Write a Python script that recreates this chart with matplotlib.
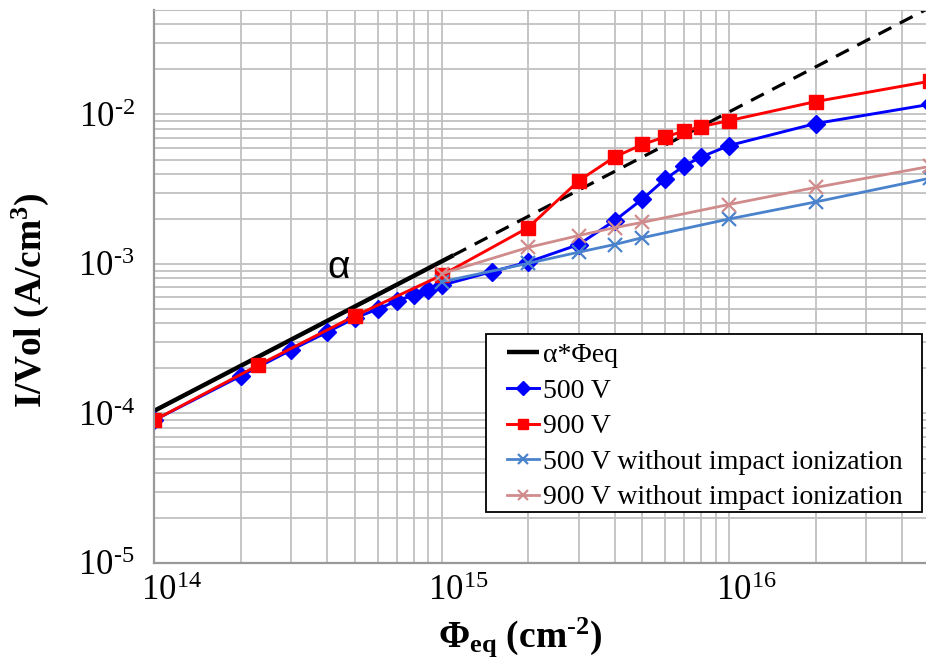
import numpy as np
import matplotlib
matplotlib.use("Agg")
import matplotlib.pyplot as plt
import matplotlib.transforms as mtransforms
from matplotlib.patches import Rectangle
from matplotlib.ticker import LogLocator, NullFormatter, FixedLocator

plt.rcParams['font.family'] = ['Liberation Serif', 'DejaVu Serif']
plt.rcParams['mathtext.fontset'] = 'custom'
plt.rcParams['mathtext.rm'] = 'Liberation Serif'
plt.rcParams['mathtext.it'] = 'Liberation Serif:italic'
plt.rcParams['mathtext.bf'] = 'Liberation Serif:bold'

# fluence (cm^-2) and current per volume (A/cm^3)
phi_500 = [1e14, 2e14, 3e14, 4e14, 5e14, 6e14, 7e14, 8e14, 9e14, 1e15, 1.5e15,
           2e15, 3e15, 4e15, 5e15, 6e15, 7e15, 8e15, 1e16, 2e16, 5e16]
i_500 = [9.0e-5, 1.78e-4, 2.66e-4, 3.5e-4, 4.35e-4, 5.0e-4, 5.66e-4, 6.2e-4, 6.7e-4,
         7.2e-4, 8.9e-4, 1.03e-3, 1.35e-3, 1.95e-3, 2.72e-3, 3.7e-3, 4.55e-3,
         5.2e-3, 6.2e-3, 8.7e-3, 1.17e-2]

phi_900 = [1e14, 2.3e14, 5e14, 1e15, 2e15, 3e15, 4e15, 5e15, 6e15, 7e15, 8e15,
           1e16, 2e16, 5e16]
i_900 = [9.0e-5, 2.1e-4, 4.5e-4, 8.4e-4, 1.75e-3, 3.6e-3, 5.2e-3, 6.3e-3, 7.1e-3,
         7.75e-3, 8.3e-3, 9.1e-3, 1.22e-2, 1.67e-2]

phi_noii = [1e15, 2e15, 3e15, 4e15, 5e15, 1e16, 2e16, 5e16]
i_500_noii = [7.6e-4, 1.01e-3, 1.2e-3, 1.35e-3, 1.5e-3, 2.0e-3, 2.6e-3, 3.75e-3]
i_900_noii = [8.6e-4, 1.29e-3, 1.55e-3, 1.75e-3, 1.9e-3, 2.5e-3, 3.25e-3, 4.5e-3]

alpha = 1.04e-18
phi_fit = [1e14, 1.1e15]
phi_extrap = [1.1e15, 5e16]

xticks = [1e14, 1e15, 1e16]
xticklabels = ['$\\mathregular{10^{14}}$', '$\\mathregular{10^{15}}$', '$\\mathregular{10^{16}}$']
yticks = [1e-5, 1e-4, 1e-3, 1e-2]
yticklabels = ['$\\mathregular{10^{\\text{-}5}}$', '$\\mathregular{10^{\\text{-}4}}$',
               '$\\mathregular{10^{\\text{-}3}}$', '$\\mathregular{10^{\\text{-}2}}$']

fig = plt.figure(figsize=(9.26, 6.59), dpi=100)
ax = fig.add_axes([154/926, 96/659, 776/926, 553/659])
ax.set_xscale('log')
ax.set_yscale('log')
ax.set_xlim(1e14, 5e16)
ax.set_ylim(1e-5, 5e-2)

gridc = '#c0c0c0'
ax.xaxis.set_major_locator(FixedLocator(xticks))
ax.yaxis.set_major_locator(FixedLocator(yticks))
ax.xaxis.set_minor_locator(LogLocator(base=10, subs=np.arange(2, 10)))
ax.yaxis.set_minor_locator(LogLocator(base=10, subs=np.arange(2, 10)))
ax.xaxis.set_minor_formatter(NullFormatter())
ax.yaxis.set_minor_formatter(NullFormatter())
ax.grid(True, which='both', color=gridc, lw=1.3)
ax.set_axisbelow(True)
ax.set_xticklabels(xticklabels, fontsize=25)
ax.set_yticklabels(yticklabels, fontsize=25)
ax.tick_params(which='both', length=0)
ax.tick_params(axis='x', pad=9)
ax.tick_params(axis='y', pad=14)
off = mtransforms.ScaledTranslation(17/100, 0, fig.dpi_scale_trans)
for lab in ax.get_xticklabels():
    lab.set_transform(lab.get_transform() + off)

for s in ['left', 'bottom']:
    ax.spines[s].set_color('#999999')
    ax.spines[s].set_linewidth(1.6)
ax.spines['top'].set_color(gridc)
ax.spines['right'].set_visible(False)

ax.plot(phi_fit, [alpha * p for p in phi_fit], color='black', lw=3.2,
        label='α*Φeq', solid_capstyle='butt')
ax.plot(phi_extrap, [alpha * p for p in phi_extrap], color='black', lw=2.3,
        dashes=(4.5, 3))
ax.plot(phi_500, i_500, color='#0000ff', lw=2.1, marker='D', ms=9.5, label='500 V')
ax.plot(phi_900, i_900, color='#ff0000', lw=2.1, marker='s', ms=10.5, label='900 V')
ax.plot(phi_noii, i_500_noii, color='#4a82cc', lw=2, marker='x', ms=10, mew=1.6,
        label='500 V without impact ionization')
ax.plot(phi_noii, i_900_noii, color='#d08c8c', lw=2, marker='x', ms=10, mew=1.6,
        label='900 V without impact ionization')

ax.text(4.4e14, 9.4e-4, 'α', fontsize=28, family='Liberation Sans',
        ha='center', va='center')

# legend box drawn separately so the padding can match
box = Rectangle((486/926, 1 - 512/659), 436/926, 178/659, transform=fig.transFigure,
                facecolor='white', edgecolor='black', lw=1.3, zorder=4.5, clip_on=False)
ax.add_artist(box)
leg = ax.legend(loc='lower right', bbox_to_anchor=(0.965, 0.095), fontsize=20,
                frameon=False, handlelength=1.15, handletextpad=0.15,
                labelspacing=0.365, borderpad=0, borderaxespad=0, markerscale=0.7)
leg.set_zorder(6)

fig.text(520/926, 1 - 637/659, 'Φ$_{\\mathbf{eq}}$ (cm$^{\\mathbf{\\text{-}2}}$)',
         fontsize=27, fontweight='bold', ha='center', va='center')
fig.text(30/926, 1 - 300/659, 'I/Vol (A/cm$^{\\mathbf{3}}$)',
         fontsize=27, fontweight='bold', ha='center', va='center', rotation=90)

fig.savefig('out.png', dpi=100)
